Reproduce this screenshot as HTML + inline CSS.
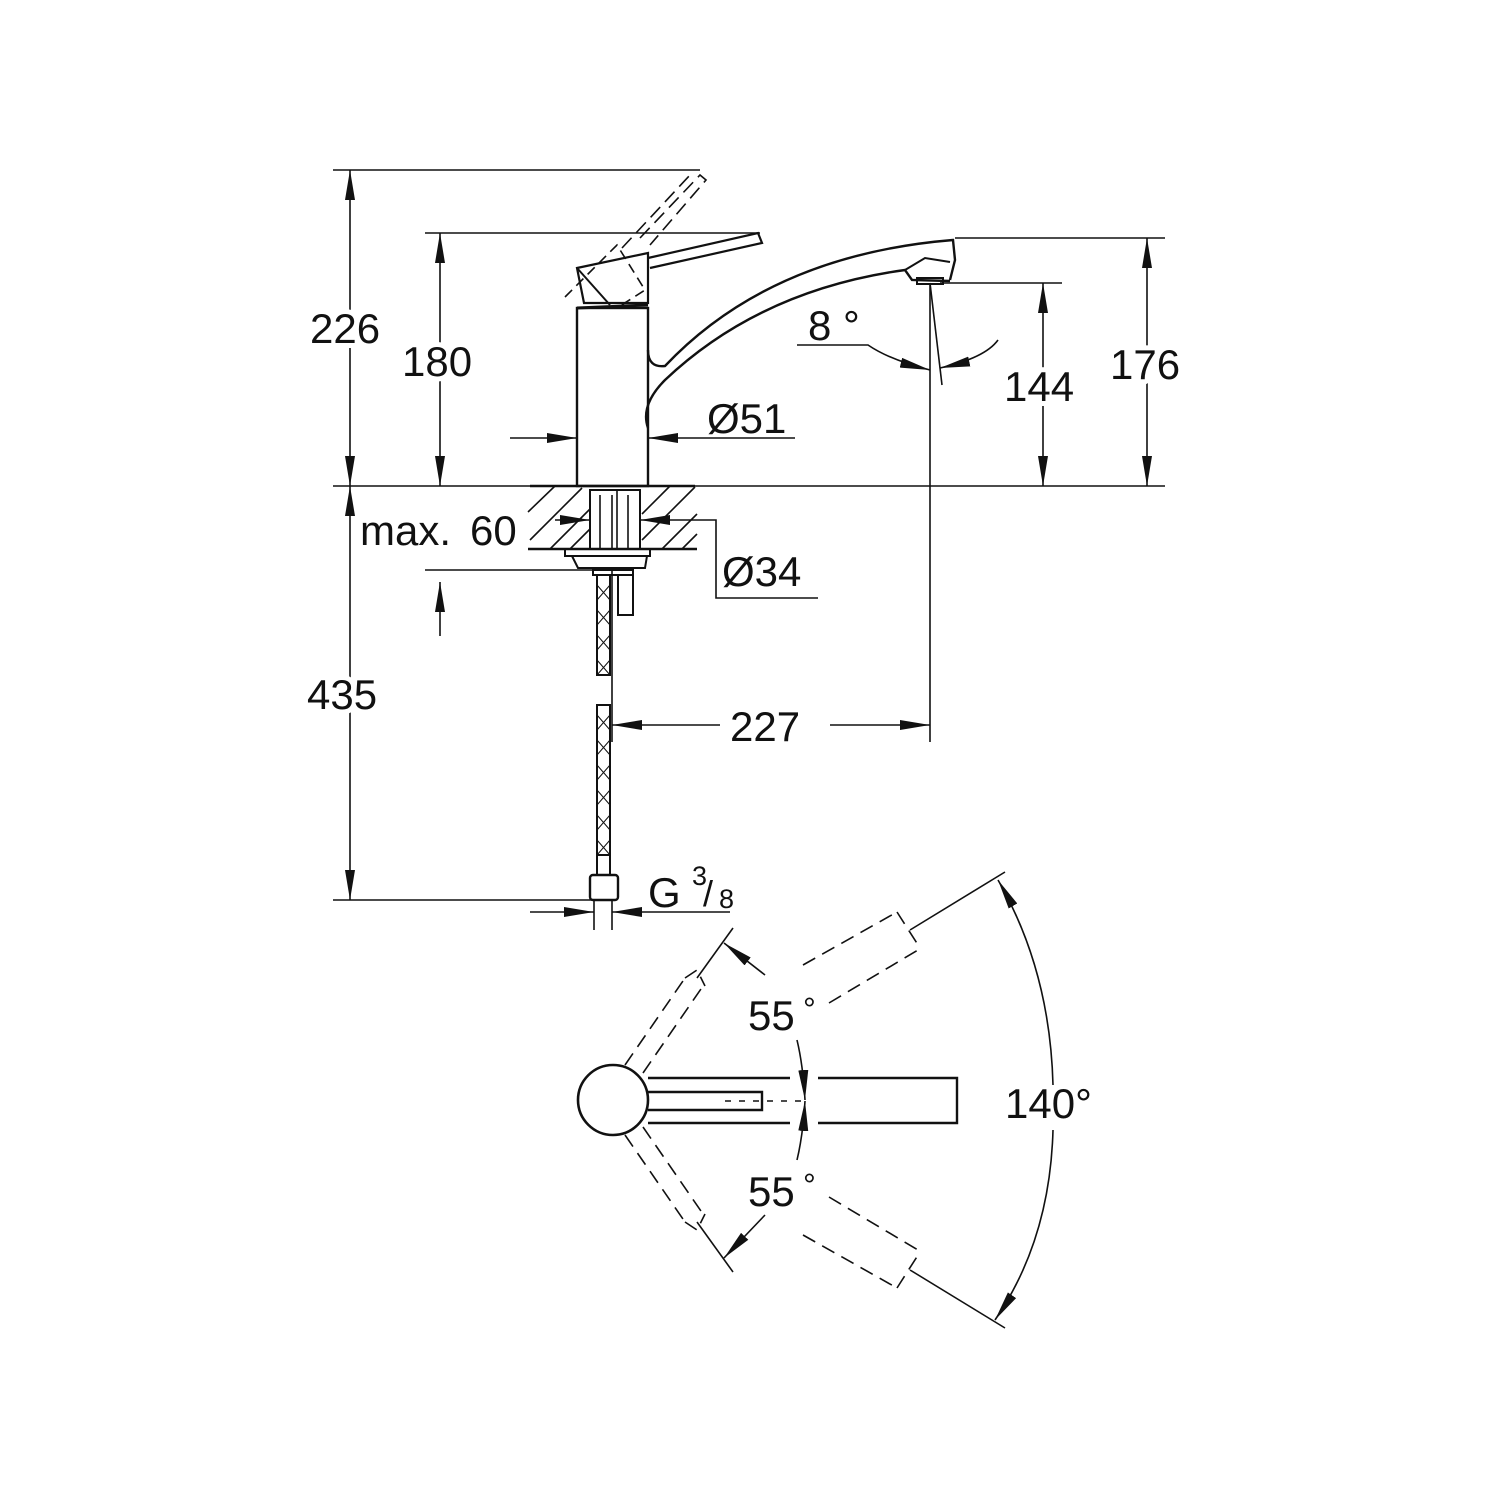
<!DOCTYPE html>
<html><head><meta charset="utf-8"><style>html,body{margin:0;padding:0;background:#fff}svg{display:block}text{font-family:"Liberation Sans",Arial,sans-serif;fill:#111;stroke:#fff;stroke-width:10px;paint-order:stroke;stroke-linejoin:round}text.n{stroke:none}</style></head>
<body>
<svg width="1500" height="1500" viewBox="0 0 1500 1500" xmlns="http://www.w3.org/2000/svg">
<defs>
<marker id="a" viewBox="0 0 30 10" refX="30" refY="5" markerWidth="30" markerHeight="10" markerUnits="userSpaceOnUse" orient="auto-start-reverse"><path d="M0,0 L30,5 L0,10 Z" fill="#111"/></marker>
</defs>
<g stroke="#111" stroke-width="1.6" fill="none">
<line x1="333" y1="170" x2="700" y2="170"/>
<line x1="425" y1="233" x2="760" y2="233"/>
<line x1="333" y1="486" x2="1165" y2="486"/>
<line x1="955" y1="238" x2="1165" y2="238"/>
<line x1="940" y1="283" x2="1062" y2="283"/>
<line x1="333" y1="900" x2="598" y2="900"/>
<line x1="425" y1="570" x2="600" y2="570"/>
<line x1="350" y1="170" x2="350" y2="486" marker-start="url(#a)" marker-end="url(#a)"/>
<line x1="440" y1="233" x2="440" y2="486" marker-start="url(#a)" marker-end="url(#a)"/>
<line x1="1147" y1="238" x2="1147" y2="486" marker-start="url(#a)" marker-end="url(#a)"/>
<line x1="1043" y1="283" x2="1043" y2="486" marker-start="url(#a)" marker-end="url(#a)"/>
<line x1="350" y1="486" x2="350" y2="900" marker-start="url(#a)" marker-end="url(#a)"/>
<line x1="440" y1="636" x2="440" y2="582" marker-end="url(#a)"/>
<line x1="930" y1="283" x2="930" y2="742"/>
<line x1="612" y1="725" x2="720" y2="725" marker-start="url(#a)"/>
<line x1="830" y1="725" x2="930" y2="725" marker-end="url(#a)"/>
<line x1="510" y1="438" x2="577" y2="438" marker-end="url(#a)"/>
<line x1="795" y1="438" x2="648" y2="438" marker-end="url(#a)"/>
<line x1="930" y1="283" x2="942" y2="385"/>
<path d="M797,345 L868,345 Q890,360 930,370" marker-end="url(#a)"/>
<path d="M998,340 Q985,358 940,368" marker-end="url(#a)"/>
<rect x="577" y="308" width="71" height="178" stroke-width="2.4"/>
<path d="M577,308 L648,305" stroke-width="3"/>
<path d="M577,268 L648,253 L648,303 L584,303 Z" stroke-width="2.2"/>
<path d="M577,268 L610,305" stroke-width="2"/>
<path d="M648,258 L758,233 L762,243 L650,268" stroke-width="2.2"/>
<path d="M565,297 L617,245 L645,290 L620,306" stroke-width="1.6" stroke-dasharray="10,6"/>
<path d="M640,238 L700,175 L706,180 L650,245" stroke-dasharray="14,7"/>
<path d="M622,248 L690,175" stroke-dasharray="14,7"/>
<path d="M648,350 Q648,368 665,366 Q770,255 953,240 L955,260 L950,280" stroke-width="2.4"/>
<path d="M648,428 Q640,405 665,380 Q760,290 905,270 L912,280 L950,281" stroke-width="2.4"/>
<path d="M905,270 L925,258 L950,262" stroke-width="2"/>
<rect x="917" y="278" width="26" height="6" stroke-width="2"/>
<line x1="530" y1="486" x2="695" y2="486" stroke-width="2.5"/>
<line x1="528" y1="549" x2="697" y2="549" stroke-width="2.5"/>
<g stroke-width="1.6">
<line x1="528" y1="512" x2="555" y2="486"/><line x1="530" y1="540" x2="582" y2="488"/>
<line x1="550" y1="549" x2="590" y2="509"/><line x1="570" y1="549" x2="590" y2="529"/>
<line x1="642" y1="514" x2="670" y2="486"/><line x1="642" y1="540" x2="695" y2="487"/>
<line x1="662" y1="549" x2="697" y2="514"/><line x1="682" y1="549" x2="697" y2="534"/>
</g>
<rect x="590" y="490" width="50" height="59" stroke-width="2"/>
<line x1="600" y1="495" x2="600" y2="549"/><line x1="612" y1="495" x2="612" y2="549"/>
<line x1="617" y1="490" x2="617" y2="549"/><line x1="628" y1="495" x2="628" y2="549"/>
<path d="M565,549 L650,549 L650,556 L565,556 Z M572,556 L578,568 L645,568 L647,556" stroke-width="2"/>
<rect x="593" y="570" width="40" height="5" stroke-width="2"/>
<rect x="618" y="575" width="15" height="40" stroke-width="2"/>
<line x1="555" y1="520" x2="590" y2="520" marker-end="url(#a)"/>
<line x1="675" y1="520" x2="640" y2="520" marker-end="url(#a)"/>
<path d="M675,520 L716,520 L716,598 L818,598"/>
<rect x="597" y="575" width="13" height="100" stroke-width="2"/>
<rect x="597" y="705" width="13" height="150" stroke-width="2"/>
<path d="M597,585 L610,600 M610,585 L597,600 M597,610 L610,625 M610,610 L597,625 M597,635 L610,650 M610,635 L597,650 M597,660 L610,675 M610,660 L597,675" stroke-width="1"/>
<path d="M597,715 L610,730 M610,715 L597,730 M597,740 L610,755 M610,740 L597,755 M597,765 L610,780 M610,765 L597,780 M597,790 L610,805 M610,790 L597,805 M597,815 L610,830 M610,815 L597,830 M597,840 L610,855 M610,840 L597,855" stroke-width="1"/>
<line x1="612" y1="570" x2="612" y2="742"/>
<rect x="597" y="855" width="13" height="20" stroke-width="2"/>
<rect x="590" y="875" width="28" height="25" rx="3" stroke-width="2.4"/>
<line x1="594" y1="900" x2="594" y2="930"/><line x1="612" y1="900" x2="612" y2="930"/>
<line x1="530" y1="912" x2="594" y2="912" marker-end="url(#a)"/>
<line x1="730" y1="912" x2="612" y2="912" marker-end="url(#a)"/>
<circle cx="613" cy="1100" r="35" stroke-width="2.6"/>
<path d="M648,1078 L790,1078 M818,1078 L957,1078 L957,1123 L818,1123 M790,1123 L648,1123" stroke-width="2.4"/>
<path d="M648,1092 L762,1092 L762,1110 L648,1110" stroke-width="2.4"/>
<line x1="725" y1="1101" x2="805" y2="1101" stroke-dasharray="6,8"/>
<g stroke-dasharray="14,8">
<line x1="625" y1="1065" x2="685" y2="978"/><line x1="643" y1="1073" x2="703" y2="986"/>
<line x1="625" y1="1135" x2="685" y2="1222"/><line x1="643" y1="1127" x2="703" y2="1214"/>
<line x1="803" y1="965" x2="897" y2="912"/><line x1="829" y1="1003" x2="918" y2="950"/>
<line x1="803" y1="1235" x2="897" y2="1288"/><line x1="829" y1="1197" x2="918" y2="1250"/>
<path d="M897,912 L920,948 M685,978 L697,970 L705,986"/>
<path d="M897,1288 L920,1252 M685,1222 L697,1230 L705,1214"/>
</g>
<line x1="697" y1="978" x2="733" y2="928"/><line x1="697" y1="1222" x2="733" y2="1272"/>
<line x1="910" y1="930" x2="1005" y2="872"/><line x1="910" y1="1270" x2="1005" y2="1328"/>
<line x1="765" y1="975" x2="724" y2="943" marker-end="url(#a)"/>
<line x1="765" y1="1215" x2="724" y2="1258" marker-end="url(#a)"/>
<path d="M797,1040 Q803,1065 805,1100" marker-end="url(#a)"/>
<path d="M797,1160 Q803,1135 805,1101" marker-end="url(#a)"/>
<path d="M1053,1085 Q1050,970 998,880" marker-end="url(#a)"/>
<path d="M1053,1130 Q1050,1240 995,1320" marker-end="url(#a)"/>
</g>
<g font-size="42">
<text x="310" y="343">226</text>
<text x="402" y="376">180</text>
<text x="1110" y="379">176</text>
<text x="1004" y="401">144</text>
<text class="n" x="808" y="340">8 °</text>
<text class="n" x="707" y="433">Ø51</text>
<text x="360" y="545">max.</text><text x="470" y="545">60</text>
<text class="n" x="722" y="586">Ø34</text>
<text x="307" y="709">435</text>
<text x="730" y="741">227</text>
<text class="n" x="648" y="907">G</text>
<text class="n" x="692" y="885" font-size="27">3</text>
<text class="n" x="703" y="906" font-size="36">/</text>
<text class="n" x="719" y="908" font-size="27">8</text>
<text x="748" y="1030">55</text><text x="803" y="1020" font-size="32">°</text>
<text x="748" y="1206">55</text><text x="803" y="1196" font-size="32">°</text>
<text x="1005" y="1118">140°</text>
</g>
</svg>
</body></html>
